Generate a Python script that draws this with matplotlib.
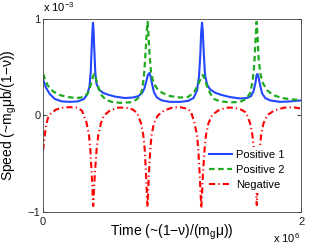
import matplotlib
matplotlib.use('Agg')
import matplotlib.pyplot as plt

plt.rcParams['font.family'] = ['Liberation Sans', 'DejaVu Sans']
plt.rcParams['mathtext.fontset'] = 'custom'
plt.rcParams['mathtext.rm'] = 'Liberation Sans'
plt.rcParams['axes.unicode_minus'] = True

# 数据 (x 单位 1e6, y 单位 1e-3)
pos1_x = [0.000, 0.021, 0.052, 0.091, 0.145, 0.207, 0.269, 0.316, 0.343, 0.359,
          0.369, 0.376, 0.383, 0.386, 0.390, 0.396, 0.404, 0.413, 0.432, 0.463,
          0.502, 0.556, 0.634, 0.696, 0.739, 0.766, 0.785, 0.801, 0.812, 0.823,
          0.832, 0.844, 0.859, 0.882, 0.921, 0.983, 1.061, 1.123, 1.166, 1.193,
          1.208, 1.218, 1.225, 1.232, 1.238, 1.246, 1.255, 1.271, 1.294, 1.333,
          1.387, 1.449, 1.527, 1.581, 1.612, 1.631, 1.645, 1.654, 1.661, 1.669,
          1.681, 1.697, 1.721, 1.760, 1.837, 1.915, 2.000]
pos1_y = [0.37, 0.29, 0.22, 0.17, 0.145, 0.14, 0.145, 0.17, 0.22, 0.30,
          0.45, 0.70, 0.90, 0.96, 0.90, 0.70, 0.45, 0.33, 0.27, 0.235,
          0.215, 0.195, 0.18, 0.185, 0.20, 0.23, 0.28, 0.36, 0.42, 0.44,
          0.41, 0.33, 0.24, 0.185, 0.155, 0.14, 0.14, 0.15, 0.18, 0.26,
          0.40, 0.62, 0.86, 0.96, 0.86, 0.62, 0.42, 0.32, 0.27, 0.235,
          0.21, 0.19, 0.175, 0.18, 0.20, 0.25, 0.33, 0.41, 0.43, 0.40,
          0.32, 0.23, 0.18, 0.155, 0.14, 0.145, 0.155]

pos2_x = [0.000, 0.013, 0.036, 0.075, 0.130, 0.192, 0.262, 0.316, 0.347, 0.370,
          0.386, 0.396, 0.409, 0.428, 0.452, 0.487, 0.533, 0.595, 0.673, 0.720,
          0.751, 0.770, 0.784, 0.796, 0.804, 0.810, 0.816, 0.824, 0.836, 0.855,
          0.882, 0.921, 0.983, 1.061, 1.123, 1.170, 1.201, 1.224, 1.237, 1.251,
          1.271, 1.294, 1.325, 1.371, 1.449, 1.527, 1.573, 1.604, 1.624, 1.638,
          1.647, 1.655, 1.663, 1.671, 1.686, 1.705, 1.737, 1.784, 1.853, 1.930,
          2.000]
pos2_y = [0.43, 0.38, 0.31, 0.25, 0.21, 0.19, 0.18, 0.19, 0.23, 0.32,
          0.40, 0.43, 0.38, 0.29, 0.21, 0.16, 0.14, 0.13, 0.135, 0.16,
          0.20, 0.28, 0.45, 0.70, 0.88, 0.97, 0.85, 0.65, 0.45, 0.34,
          0.28, 0.235, 0.20, 0.185, 0.19, 0.24, 0.32, 0.39, 0.42, 0.38,
          0.30, 0.23, 0.17, 0.145, 0.135, 0.14, 0.17, 0.23, 0.35, 0.55,
          0.80, 0.97, 0.80, 0.58, 0.42, 0.33, 0.26, 0.21, 0.18, 0.165,
          0.16]

neg_x = [0.000, 0.009, 0.021, 0.036, 0.060, 0.099, 0.153, 0.207, 0.262, 0.300,
         0.337, 0.355, 0.366, 0.376, 0.388, 0.401, 0.414, 0.428, 0.448, 0.471,
         0.518, 0.580, 0.642, 0.696, 0.731, 0.758, 0.776, 0.788, 0.797, 0.809,
         0.820, 0.830, 0.841, 0.859, 0.890, 0.937, 0.999, 1.061, 1.115, 1.146,
         1.173, 1.193, 1.203, 1.213, 1.226, 1.239, 1.251, 1.263, 1.282, 1.309,
         1.356, 1.418, 1.480, 1.534, 1.573, 1.604, 1.622, 1.634, 1.643, 1.656,
         1.669, 1.679, 1.690, 1.709, 1.736, 1.790, 1.868, 1.937, 2.000]
neg_y = [-0.36, -0.24, -0.12, -0.03, 0.02, 0.06, 0.08, 0.085, 0.08, 0.05,
         -0.08, -0.2, -0.36, -0.6, -0.94, -0.6, -0.36, -0.2, -0.08, 0.0,
         0.05, 0.08, 0.08, 0.06, 0.02, -0.08, -0.2, -0.36, -0.6, -0.95,
         -0.6, -0.36, -0.2, -0.08, 0.0, 0.05, 0.08, 0.085, 0.07, 0.04,
         -0.08, -0.2, -0.36, -0.6, -0.96, -0.6, -0.36, -0.2, -0.08, 0.0,
         0.05, 0.08, 0.08, 0.06, 0.03, -0.08, -0.2, -0.36, -0.6, -0.93,
         -0.6, -0.36, -0.2, -0.08, 0.0, 0.05, 0.08, 0.085, 0.07]

fig = plt.figure(figsize=(3.32, 2.46), dpi=100)
ax = fig.add_axes([0.130, 0.139, 0.777, 0.784])

ax.plot(pos1_x, pos1_y, color='#2346ff', lw=1.5, label='Positive 1')
ax.plot(pos2_x, pos2_y, color='#1faa1f', lw=1.6, ls=(0, (2.5, 1.6)), label='Positive 2')
ax.plot(neg_x, neg_y, color='#ff0000', lw=1.5, ls=(0, (3, 1.5, 0.6, 1.5)), label='Negative')

ax.set_xlim(0, 2)
ax.set_ylim(-1, 1)
ax.set_xticks([0, 2])
ax.set_yticks([-1, 0, 1])
ax.set_xticklabels(['0', '2'])
ax.set_yticklabels(['\u22121', '0', '1'])
ax.tick_params(direction='in', length=3, width=0.6, labelsize=8, colors='#222222',
               top=True, right=True, pad=2)
ax.tick_params(axis='x', pad=4)
for s in ax.spines.values():
    s.set_linewidth(0.6)
    s.set_color('#444444')

ax.set_xlabel('Time (~(1\u2212\u03bd)/(m$_\\mathrm{g}$\u03bc))', fontsize=10)
ax.set_ylabel('Speed (~m$_\\mathrm{g}$\u03bcb/(1\u2212\u03bd))', fontsize=10)
ax.xaxis.set_label_coords(0.5, -0.055)
ax.yaxis.set_label_coords(-0.095, 0.5)

# 科学计数法的倍数
fig.text(0.130, 0.945, 'x 10$^{\\mathrm{\u22123}}$', fontsize=8, ha='left', va='bottom')
fig.text(0.905, 0.003, 'x 10$^{\\mathrm{6}}$', fontsize=8, ha='right', va='bottom')

leg = ax.legend(loc='center', bbox_to_anchor=(0.79, 0.216), fontsize=8,
                handlelength=2.1, handletextpad=0.35, labelspacing=0.45,
                borderpad=0.3, frameon=True, fancybox=False)
leg.get_frame().set_edgecolor('none')
leg.get_frame().set_facecolor('white')
leg.get_frame().set_alpha(1)

fig.savefig('out.png', dpi=100)
